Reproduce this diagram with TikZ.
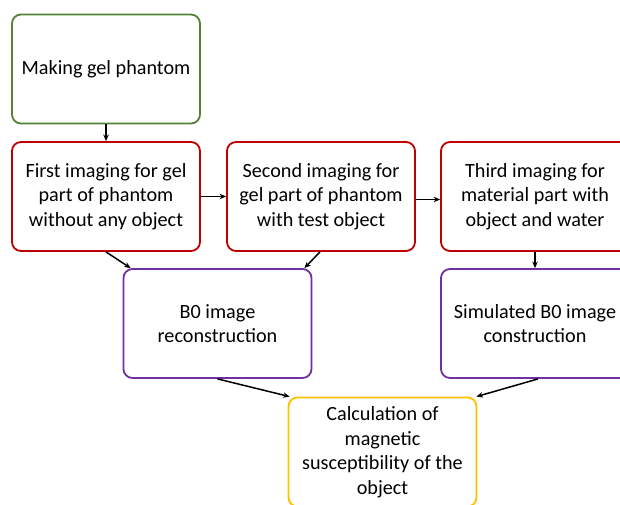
\documentclass[tikz,border=0pt]{standalone}
\usepackage{fontspec}
\setmainfont{Carlito}
\usetikzlibrary{arrows.meta}
\definecolor{cgreen}{RGB}{84,130,53}
\definecolor{cred}{RGB}{192,0,0}
\definecolor{cpurple}{RGB}{112,48,160}
\definecolor{cyellow}{RGB}{255,192,0}
\tikzset{
  box/.style={draw, line width=1.8pt, rounded corners=9pt, fill=white,
    minimum width=188pt, minimum height=109pt, align=center,
    font=\fontsize{20.2}{24.5}\selectfont, inner sep=2pt},
  arr/.style={-{Stealth[length=6.5pt,width=5.5pt]}, line width=1.5pt, black}
}
\begin{document}
\begin{tikzpicture}[x=1pt,y=-1pt]
\useasboundingbox (0,0) rectangle (620,505);
\clip (0,0) rectangle (620,505);
\node[box, draw=cgreen] (make) at (106,69) {Making gel phantom};
\node[box, draw=cred] (first) at (106,196.5) {First imaging for gel\\part of phantom\\without any object};
\node[box, draw=cred] (second) at (321,196.5) {Second imaging for\\gel part of phantom\\with test object};
\node[box, draw=cred] (third) at (535,196.5) {Third imaging for\\material part with\\object and water};
\node[box, draw=cpurple] (recon) at (217.5,323.5) {B0 image\\reconstruction};
\node[box, draw=cpurple] (sim) at (535,323.5) {Simulated B0 image\\construction};
\node[box, draw=cyellow] (calc) at (382.5,452) {Calculation of\\magnetic\\susceptibility of the\\object};
\draw[arr] (make.south) -- (first.north);
\draw[arr] (first.east) -- (second.west);
\draw[arr] ([yshift=-3pt]second.east) -- ([yshift=-3pt]third.west);
\draw[arr] (first.south) -- ([xshift=8pt]recon.north west);
\draw[arr] ([xshift=-1pt]second.south) -- ([xshift=-8pt]recon.north east);
\draw[arr] (third.south) -- (sim.north);
\draw[arr] (recon.south) -- ([xshift=2pt]calc.north west);
\draw[arr] ([xshift=3pt]sim.south) -- ([xshift=-1pt]calc.north east);
\end{tikzpicture}
\end{document}
